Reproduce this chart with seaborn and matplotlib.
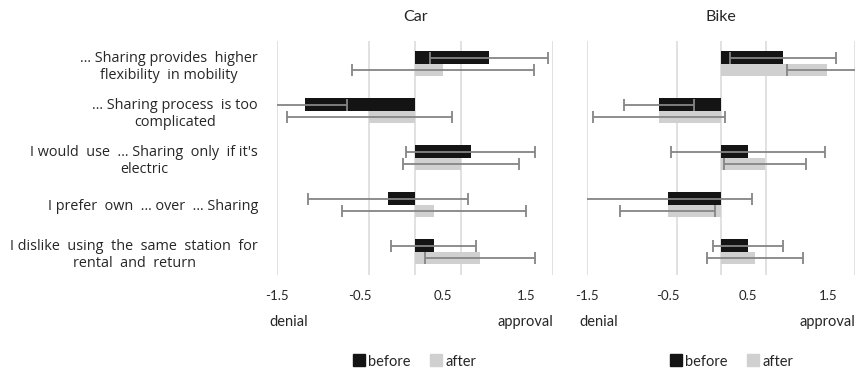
import pandas as pd
import matplotlib.pyplot as plt
from matplotlib.lines import Line2D
import seaborn as sns

BEFORE_COLOR = "#141414"  # dark bars (before)
AFTER_COLOR = "#d0d0d0"   # light bars (after)
ERR_COLOR = "#858585"
GRID_COLOR = "#dedede"

statements = [
    "… Sharing provides  higher\nflexibility  in mobility",
    "… Sharing process  is too\ncomplicated",
    "I would  use  … Sharing  only  if it's\nelectric",
    "I prefer  own  … over  … Sharing",
    "I dislike  using  the  same  station  for\nrental  and  return",
]
periods = ["before", "after"]

# mean agreement and error half-widths
car_before = [0.80, -1.20, 0.60, -0.30, 0.20]
car_before_err = [0.64, 0.46, 0.70, 0.87, 0.46]
car_after = [0.30, -0.50, 0.50, 0.20, 0.70]
car_after_err = [0.99, 0.90, 0.63, 1.00, 0.60]

bike_before = [0.69, -0.70, 0.30, -0.60, 0.30]
bike_before_err = [0.59, 0.39, 0.86, 0.94, 0.39]
bike_after = [1.18, -0.70, 0.49, -0.60, 0.38]
bike_after_err = [0.45, 0.74, 0.46, 0.53, 0.54]

grid_values = [-1.5, -0.5, 0, 0.5, 1.5]
tick_values = [-1.5, -0.5, 0.5, 1.5]
tick_labels = ["-1.5", "-0.5", "0.5", "1.5"]

sns.set_theme(style="white")
plt.rcParams["font.family"] = ["Lato", "DejaVu Sans"]

fig = plt.figure(figsize=(8.56, 3.73), dpi=100)
ax_car = fig.add_axes([0.324, 0.263, 0.3224, 0.628])
ax_bike = fig.add_axes([0.6861, 0.263, 0.3131, 0.628])

panels = [
    (ax_car, "Car", car_before, car_before_err, car_after, car_after_err, 0.50),
    (ax_bike, "Bike", bike_before, bike_before_err, bike_after, bike_after_err, 0.54),
]

for ax, titulo, before, before_err, after, after_err, legend_x in panels:
    df = pd.DataFrame({
        "Statement": statements * 2,
        "Period": ["before"] * len(statements) + ["after"] * len(statements),
        "Mean": before + after,
    })
    sns.barplot(data=df, x="Mean", y="Statement", hue="Period", order=statements,
                hue_order=periods, palette=[BEFORE_COLOR, AFTER_COLOR], orient="h",
                width=0.53, linewidth=0, errorbar=None, ax=ax, zorder=2, legend=False)

    # error bars centred on each bar
    for container, vals, errs in zip(ax.containers, [before, after], [before_err, after_err]):
        for bar, v, e in zip(container, vals, errs):
            ax.errorbar(v, bar.get_y() + bar.get_height() / 2, xerr=e, fmt="none",
                        ecolor=ERR_COLOR, elinewidth=1.3, capsize=4, capthick=1.3, zorder=3)

    ax.set_xlim(-1.5, 1.5)
    ax.set_xticks(grid_values)
    ax.xaxis.grid(True, color=GRID_COLOR, linewidth=1.3)
    ax.set_axisbelow(True)
    ax.tick_params(axis="x", length=0, labelbottom=False)
    ax.tick_params(axis="y", length=0, pad=14)
    ax.set_xlabel("")
    ax.set_ylabel("")
    sns.despine(ax=ax, left=True, bottom=True)

    # tick labels sit on a slightly compressed scale, like in the original
    sec = ax.secondary_xaxis("bottom", functions=(lambda x: -1.5 + (x + 1.5) / 0.9,
                                                  lambda s: -1.5 + (s + 1.5) * 0.9))
    sec.set_xticks(tick_values, tick_labels)
    sec.tick_params(length=0, pad=11, labelsize=9.5)
    sec.spines["bottom"].set_visible(False)

    ax.set_title(titulo, fontsize=11.5, pad=14)
    ax.text(-0.03, -0.2, "denial", transform=ax.transAxes, ha="left", va="center", fontsize=10.5)
    ax.text(1.0, -0.2, "approval", transform=ax.transAxes, ha="right", va="center", fontsize=10.5)

    # square legend markers
    handles = [Line2D([], [], marker="s", linestyle="", markersize=9, color=c)
               for c in [BEFORE_COLOR, AFTER_COLOR]]
    ax.legend(handles, periods, loc="center", bbox_to_anchor=(legend_x, -0.37), ncol=2,
              frameon=False, handlelength=0.7, handletextpad=0.3,
              columnspacing=1.4, prop={"size": 10.5})

for lbl in ax_car.get_yticklabels():
    lbl.set_multialignment("center")
    lbl.set_fontfamily(["Open Sans", "DejaVu Sans"])
    lbl.set_fontsize(10.4)
ax_bike.set_yticklabels([])

plt.savefig("out.png", dpi=100)
plt.close()
